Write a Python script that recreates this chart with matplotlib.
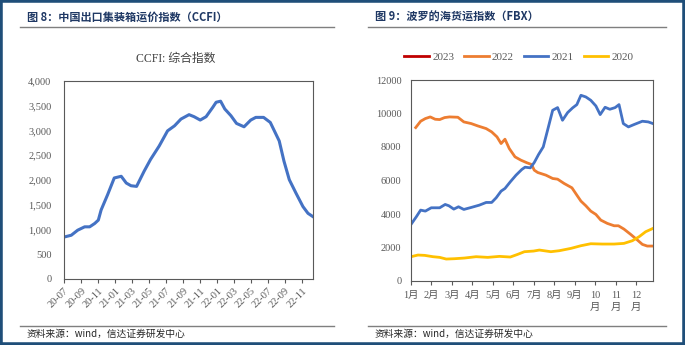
import numpy as np
import pandas as pd
import matplotlib
matplotlib.use('Agg')
import matplotlib.pyplot as plt
import matplotlib.dates as mdates
from matplotlib.patches import Rectangle
from matplotlib.lines import Line2D
from matplotlib.ticker import FuncFormatter

plt.rcParams['font.family'] = ['Liberation Serif', 'Noto Sans CJK SC']

# CCFI composite index
ccfi_dates = ['2020-07-03', '2020-07-27', '2020-08-19', '2020-09-13', '2020-10-01',
              '2020-10-19', '2020-11-01', '2020-11-11', '2020-12-04', '2020-12-28',
              '2021-01-22', '2021-02-09', '2021-02-26', '2021-03-18', '2021-04-14',
              '2021-05-07', '2021-06-07', '2021-07-07', '2021-08-01', '2021-08-24',
              '2021-09-22', '2021-10-10', '2021-11-01', '2021-11-22', '2021-12-16',
              '2021-12-28', '2022-01-13', '2022-01-28', '2022-02-19', '2022-03-11',
              '2022-04-07', '2022-05-01', '2022-05-19', '2022-06-16', '2022-07-10',
              '2022-08-11', '2022-08-28', '2022-09-16', '2022-10-10', '2022-11-04',
              '2022-11-22', '2022-12-10']
ccfi_vals = [850, 884, 986, 1054, 1054, 1122, 1190, 1395, 1700, 2041,
             2075, 1939, 1884, 1871, 2177, 2415, 2687, 2993, 3095, 3231,
             3320, 3279, 3211, 3279, 3469, 3571, 3592, 3435, 3299, 3143,
             3075, 3211, 3265, 3265, 3163, 2789, 2381, 2007, 1735, 1463,
             1327, 1259]

# FBX by year, x in months from 1 Jan
fbx22_m = [0.23, 0.47, 0.70, 0.94, 1.18, 1.40, 1.64, 1.88, 2.29, 2.58, 2.94, 3.26,
           3.67, 3.94, 4.20, 4.40, 4.59, 4.80, 5.08, 5.37, 5.67, 5.89, 6.02, 6.19,
           6.59, 6.92, 7.16, 7.48, 7.86, 8.10, 8.30, 8.54, 8.78, 9.03, 9.27, 9.59,
           9.92, 10.13, 10.40, 10.73, 11.06, 11.30, 11.54, 11.82]
fbx22_v = [9160, 9538, 9697, 9796, 9657, 9637, 9756, 9796, 9776, 9498, 9399, 9259,
           9100, 8902, 8604, 8206, 8465, 7908, 7412, 7213, 7054, 6955, 6617, 6478,
           6319, 6120, 6080, 5822, 5564, 5127, 4769, 4491, 4173, 3974, 3636, 3438,
           3298, 3298, 3100, 2782, 2444, 2186, 2086, 2086]

fbx21_m = [0.00, 0.26, 0.47, 0.70, 0.99, 1.40, 1.67, 1.85, 2.09, 2.32, 2.58, 2.94,
           3.34, 3.67, 3.94, 4.16, 4.40, 4.59, 4.85, 5.13, 5.41, 5.57, 5.83, 6.02,
           6.23, 6.46, 6.67, 6.92, 7.16, 7.40, 7.65, 7.89, 8.10, 8.30, 8.54, 8.78,
           9.03, 9.24, 9.48, 9.71, 9.97, 10.16, 10.37, 10.62, 10.89, 11.30, 11.59, 11.82]
fbx21_v = [3378, 3835, 4232, 4173, 4371, 4371, 4570, 4491, 4292, 4431, 4272, 4391,
           4530, 4689, 4689, 4968, 5365, 5524, 5921, 6319, 6656, 6795, 6756, 7074,
           7551, 8008, 9001, 10193, 10352, 9597, 10054, 10332, 10531, 11087, 10988, 10789,
           10451, 9935, 10372, 10253, 10352, 10531, 9398, 9200, 9339, 9538, 9498, 9398]

fbx20_m = [0.00, 0.34, 0.67, 1.07, 1.40, 1.72, 2.13, 2.61, 3.18, 3.75, 4.32, 4.85,
           5.21, 5.54, 5.99, 6.27, 6.83, 7.24, 7.81, 8.30, 8.78, 9.35, 9.92, 10.40,
           10.81, 11.14, 11.46, 11.82]
fbx20_v = [1451, 1550, 1530, 1451, 1411, 1311, 1331, 1371, 1451, 1411, 1470, 1431,
           1590, 1749, 1788, 1848, 1749, 1808, 1947, 2106, 2225, 2206, 2206, 2245,
           2404, 2643, 2941, 3140]

fbx23_m = []
fbx23_v = []

month_labels = ['1月', '2月', '3月', '4月', '5月', '6月', '7月', '8月', '9月',
                '10\n月', '11\n月', '12\n月']

navy = '#1F3864'
grey = '#595959'
cjk = ['Noto Sans CJK SC', 'DejaVu Sans']

fig = plt.figure(figsize=(6.85, 3.45), dpi=100)

# outer frame
fig.patches.append(Rectangle((0, 0), 1, 1, transform=fig.transFigure, fill=False,
                             edgecolor='#1F4E79', linewidth=4, zorder=10))

# panel headers and footers
for x0, x1, tx, title in [(20, 334, 27, '图 8：中国出口集装箱运价指数（CCFI）'),
                          (368, 666, 375, '图 9：波罗的海货运指数（FBX）')]:
    fig.add_artist(Line2D([x0 / 685, x1 / 685], [1 - 27 / 345] * 2, color='#7f7f7f', lw=1))
    fig.add_artist(Line2D([x0 / 685, x1 / 685], [1 - 326 / 345] * 2, color='#7f7f7f', lw=1))
    fig.text(tx / 685, 1 - 17 / 345, title, family=cjk, fontsize=8, fontweight='bold',
             color=navy, va='center', ha='left')
    fig.text(tx / 685, 1 - 334 / 345, '资料来源：wind，信达证券研发中心', family=cjk,
             fontsize=7, color='#262626', va='center', ha='left')

# ---- left: CCFI ----
ax1 = fig.add_axes([64 / 685, 1 - 279 / 345, (313 - 64) / 685, (279 - 81) / 345])
ax1.plot(pd.to_datetime(ccfi_dates), ccfi_vals, color='#4472C4', lw=2.2)
ax1.set_ylim(0, 4000)
ax1.set_yticks(np.arange(0, 4001, 500))
ax1.yaxis.set_major_formatter(FuncFormatter(lambda v, p: '{:,.0f}'.format(v)))
ax1.set_xlim(pd.Timestamp('2020-07-01'), pd.Timestamp('2022-12-10'))
ax1.xaxis.set_major_locator(mdates.MonthLocator(bymonth=[1, 3, 5, 7, 9, 11]))
ax1.xaxis.set_major_formatter(mdates.DateFormatter('%y-%m'))
ax1.tick_params(axis='y', length=0, pad=9, labelsize=7.5, labelcolor=grey)
ax1.tick_params(axis='x', length=3, direction='out', color=grey, labelsize=7.5,
                labelcolor=grey, pad=2)
for lab in ax1.get_xticklabels():
    lab.set_rotation(45)
    lab.set_ha('right')
    lab.set_rotation_mode('anchor')
for s in ax1.spines.values():
    s.set_color(grey)
    s.set_linewidth(0.8)
fig.text(176 / 685, 1 - 59 / 345, 'CCFI: 综合指数', fontsize=8.5, color='#404040',
         ha='center', va='center')

# ---- right: FBX ----
ax2 = fig.add_axes([411 / 685, 1 - 281 / 345, (653 - 411) / 685, (281 - 80) / 345])
ax2.plot(fbx23_m, fbx23_v, color='#C00000', lw=2, label='2023')
ax2.plot(fbx22_m, fbx22_v, color='#ED7D31', lw=2, label='2022')
ax2.plot(fbx21_m, fbx21_v, color='#4472C4', lw=2, label='2021')
ax2.plot(fbx20_m, fbx20_v, color='#FFC000', lw=2, label='2020')
ax2.set_ylim(0, 12000)
ax2.set_yticks(np.arange(0, 12001, 2000))
ax2.set_xlim(0, 11.82)
ax2.set_xticks(np.arange(12))
ax2.set_xticklabels(month_labels)
ax2.tick_params(axis='y', length=0, pad=7, labelsize=7.5, labelcolor=grey)
ax2.tick_params(axis='x', length=3, direction='out', color=grey, labelsize=7.5,
                labelcolor=grey, pad=4)
for lab in ax2.get_xticklabels():
    lab.set_linespacing(1.5)
for s in ax2.spines.values():
    s.set_color(grey)
    s.set_linewidth(0.8)
ax2.legend(loc='center', bbox_to_anchor=(519 / 685, 1 - 57 / 345),
           bbox_transform=fig.transFigure, ncol=4, frameon=False, fontsize=8,
           handlelength=2.2, columnspacing=0.9, handletextpad=0.3, labelcolor=grey)

fig.savefig('out.png', dpi=100)
